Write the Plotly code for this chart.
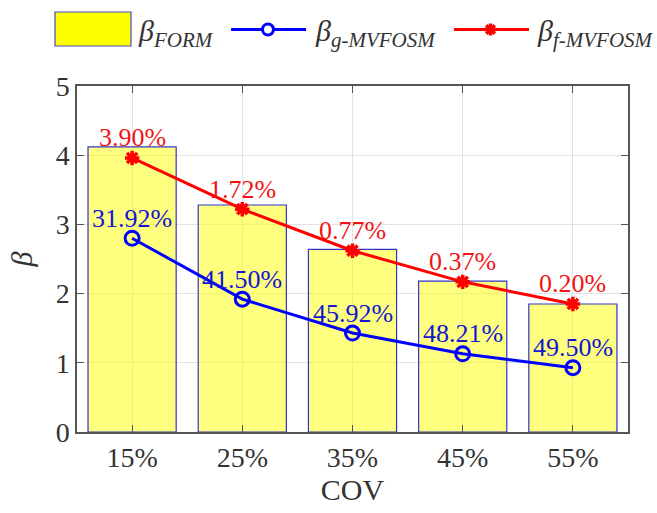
import plotly.graph_objects as go

categories = ["15%", "25%", "35%", "45%", "55%"]
beta_form = [4.12, 3.28, 2.64, 2.18, 1.85]
beta_g = [2.80, 1.92, 1.43, 1.13, 0.93]
beta_f = [3.96, 3.22, 2.62, 2.17, 1.85]
err_g = ["31.92%", "41.50%", "45.92%", "48.21%", "49.50%"]
err_f = ["3.90%", "1.72%", "0.77%", "0.37%", "0.20%"]
legend_names = ["<i>β</i><sub><i>FORM</i></sub>",
                "<i>β</i><sub><i>g-MVFOSM</i></sub>",
                "<i>β</i><sub><i>f-MVFOSM</i></sub>"]

FONT = "Liberation Serif"
W, H = 657, 513
ML, MR, MT, MB = 77, 29, 86, 81
PW, PH = W - ML - MR, H - MT - MB


def px(x):
    return (x - ML) / PW


def py(y):
    return (H - MB - y) / PH


fig = go.Figure()
fig.add_trace(go.Bar(
    x=categories, y=beta_form, width=0.8,
    marker=dict(color="rgba(255,255,0,0.5)", line=dict(color="#3434c8", width=1.2)),
    name=legend_names[0], showlegend=False,
))
fig.add_trace(go.Scatter(
    x=categories, y=beta_g, mode="lines+markers",
    line=dict(color="#0000ff", width=3),
    marker=dict(symbol="circle-open", size=14, color="#0000ff", line=dict(width=3, color="#0000ff")),
    name=legend_names[1], showlegend=False,
))
fig.add_trace(go.Scatter(
    x=categories, y=beta_f, mode="lines+markers",
    line=dict(color="#ff0000", width=3),
    marker=dict(symbol="asterisk-open", size=12, color="#ff0000", line=dict(width=3.5, color="#ff0000")),
    name=legend_names[2], showlegend=False,
))

for c, v, t in zip(categories, beta_g, err_g):
    fig.add_annotation(x=c, y=v, text=t, showarrow=False, yanchor="middle", yshift=20,
                       font=dict(family=FONT, size=26, color="#1414d2"))
for c, v, t in zip(categories, beta_f, err_f):
    fig.add_annotation(x=c, y=v, text=t, showarrow=False, yanchor="middle", yshift=20,
                       font=dict(family=FONT, size=26, color="#f01414"))

# ---- legend (drawn in paper space, above the axes) ----
shapes = []
shapes.append(dict(type="rect", xref="paper", yref="paper",
                   x0=px(55), x1=px(131), y0=py(46), y1=py(12),
                   fillcolor="#ffff00", line=dict(color="#4848c8", width=1.2)))
shapes.append(dict(type="line", xref="paper", yref="paper",
                   x0=px(231), x1=px(306), y0=py(29.5), y1=py(29.5),
                   line=dict(color="#0000ff", width=3)))
shapes.append(dict(type="circle", xref="paper", yref="paper",
                   x0=px(268 - 5.5), x1=px(268 + 5.5), y0=py(29.5 + 5.5), y1=py(29.5 - 5.5),
                   fillcolor="white", line=dict(color="#0000ff", width=3)))
shapes.append(dict(type="line", xref="paper", yref="paper",
                   x0=px(454), x1=px(529), y0=py(29.5), y1=py(29.5),
                   line=dict(color="#ff0000", width=3)))
sx, sy, r = 490.5, 29.5, 6
for dx, dy in [(r, 0), (0, r), (r * 0.72, r * 0.72), (r * 0.72, -r * 0.72)]:
    shapes.append(dict(type="line", xref="paper", yref="paper",
                       x0=px(sx - dx), x1=px(sx + dx), y0=py(sy - dy), y1=py(sy + dy),
                       line=dict(color="#ff0000", width=3.5)))
for name, xl in zip(legend_names, [136, 313, 535]):
    fig.add_annotation(xref="paper", yref="paper", x=px(xl), y=py(33), text=name,
                       showarrow=False, xanchor="left", yanchor="middle",
                       font=dict(family=FONT, size=30, color="#333333"))

axis_common = dict(
    showline=True, linecolor="#555555", linewidth=1.5, mirror="ticks",
    ticks="inside", ticklen=7, tickcolor="#555555", tickwidth=1.2,
    showgrid=True, gridcolor="#e2e2e2", gridwidth=1,
    tickfont=dict(family=FONT, size=28, color="#333333"),
    zeroline=False, automargin=False,
)

fig.update_layout(
    width=W, height=H,
    margin=dict(l=ML, r=MR, t=MT, b=MB, autoexpand=False),
    paper_bgcolor="white", plot_bgcolor="white",
    font=dict(family=FONT, color="#262626"),
    showlegend=False,
    shapes=shapes,
    xaxis=dict(title=dict(text="COV", font=dict(family=FONT, size=30, color="#333333"), standoff=4),
               range=[-0.5, 4.5], **axis_common),
    yaxis=dict(title=dict(text="<i>β</i>", font=dict(family=FONT, size=30, color="#333333"), standoff=14),
               range=[0, 5], tickvals=[0, 1, 2, 3, 4, 5], **axis_common),
    bargap=0.2,
)

fig.write_html("out.html", config={"displayModeBar": False},
               post_script="document.body.style.margin='0';")
